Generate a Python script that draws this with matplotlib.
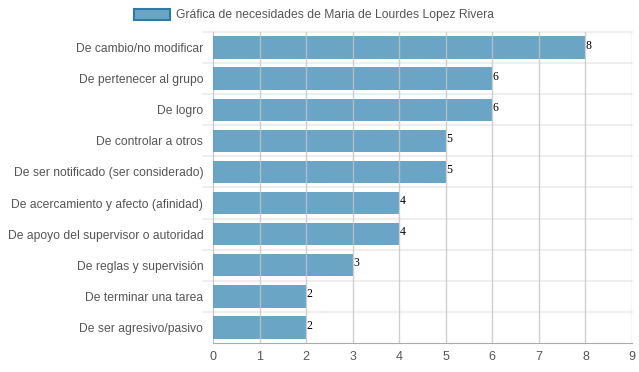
import numpy as np
import matplotlib.pyplot as plt
from matplotlib.patches import Patch

# necesidades y puntajes, de arriba hacia abajo
categorias = ['De cambio/no modificar', 'De pertenecer al grupo', 'De logro',
              'De controlar a otros', 'De ser notificado (ser considerado)',
              'De acercamiento y afecto (afinidad)',
              'De apoyo del supervisor o autoridad', 'De reglas y supervisión',
              'De terminar una tarea', 'De ser agresivo/pasivo']
valores = [8, 6, 6, 5, 5, 4, 4, 3, 2, 2]
xticks = list(range(0, 10))
titulo = 'Gráfica de necesidades de Maria de Lourdes Lopez Rivera'

plt.rcParams['font.family'] = ['Liberation Sans', 'DejaVu Sans']

fig = plt.figure(figsize=(6.39, 3.72), dpi=100)
ax = fig.add_axes([213 / 639, 1 - 343 / 372, 419 / 639, 311 / 372])

y = np.arange(len(categorias))
ax.barh(y, valores, height=0.72, color='#5b9bbf', alpha=0.9, zorder=3)

for i, v in enumerate(valores):
    ax.text(v + 0.01, i - 0.06, str(v), family='Liberation Serif',
            fontsize=8.5, color='black', va='center', ha='left', zorder=4)

ax.set_ylim(len(categorias) - 0.5, -0.5)
ax.set_xlim(0, 9)
ax.set_xticks(xticks)
ax.set_yticks(y)
ax.set_yticklabels(categorias)
ax.tick_params(axis='both', length=0, labelsize=8.7, colors='#555555')
ax.tick_params(axis='y', pad=7)
ax.tick_params(axis='x', pad=6, labelsize=9)

for x in xticks[1:]:
    ax.axvline(x, color='#c4c4c4', lw=1, zorder=5, alpha=0.8)

# lineas horizontales entre categorias
for b in np.arange(-0.5, len(categorias) - 0.5, 1.0):
    ax.axhline(b, xmin=-10 / 419, xmax=1, color='#ebebeb', lw=1.2,
               clip_on=False, zorder=1)

for s in ['top', 'right']:
    ax.spines[s].set_visible(False)
ax.spines['bottom'].set_color('#aaaaaa')
ax.spines['left'].set_color('#c4c4c4')

leg = fig.legend(handles=[Patch(facecolor='#6aa6c4', edgecolor='#2f7aa5',
                                linewidth=1.5, label=titulo)],
                 loc='center', bbox_to_anchor=(314 / 639, 1 - 15 / 372),
                 frameon=False, fontsize=8.7, handlelength=3.0,
                 handleheight=1.1, handletextpad=0.5)
for t in leg.get_texts():
    t.set_color('#555555')

fig.savefig('out.png', dpi=100)
